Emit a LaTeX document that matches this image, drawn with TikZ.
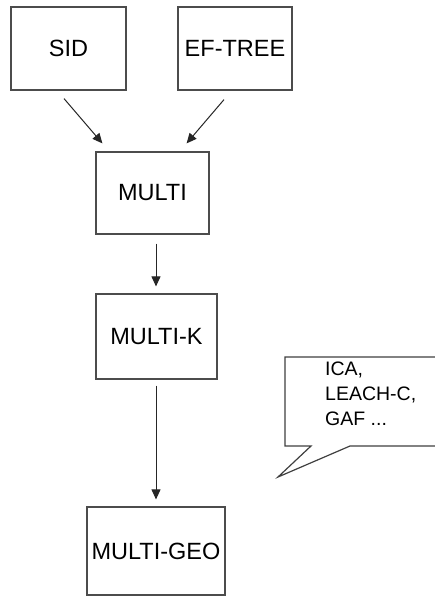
\documentclass[tikz,border=0pt]{standalone}
\usepackage{fontspec}
\setmainfont{Liberation Sans}
\usetikzlibrary{arrows.meta,calc}

\tikzset{
  stage/.style={draw=black!70, line width=1.2pt, fill=white, inner sep=0pt,
    font=\fontsize{23.5}{28}\selectfont},
  flow/.style={draw=black!85, line width=1pt,
    -{Triangle[length=10pt,width=9pt]}},
  bubble/.style={draw=black!75, line width=1.2pt, fill=white, line join=miter},
  bubbletext/.style={align=left, inner sep=0pt,
    font=\fontsize{19.5}{25}\selectfont}
}

\begin{document}
\begin{tikzpicture}[x=1pt,y=-1pt]
  \useasboundingbox[fill=white] (0,0) rectangle (435,597);

  % processing stages
  \node[stage, minimum width=115pt, minimum height=83pt] (sid)    at (68.5,48.5) {SID};
  \node[stage, minimum width=114pt, minimum height=83pt] (eftree) at (235,48.5)  {EF-TREE};
  \node[stage, minimum width=113pt, minimum height=82pt] (multi)  at (152.5,193) {MULTI};
  \node[stage, minimum width=121pt, minimum height=85pt] (multik) at (156.5,336.5) {MULTI-K};
  \node[stage, minimum width=138pt, minimum height=88pt] (multigeo) at (156,551) {MULTI-GEO};

  % connectors (they stop short of the boxes)
  \draw[flow] ($(sid.south)+(-4.5,8)$) -- ($(multi.north west)+(7,-8)$);
  \draw[flow] ($(eftree.south)+(-11,9)$) -- ($(multi.north east)+(-23,-8)$);
  \draw[flow] ($(multi.south)+(3.5,9)$) -- ($(multik.north)+(-0.5,-7)$);
  \draw[flow] ($(multik.south)+(-0.5,6)$) -- ($(multigeo.north)+(0,-7)$);

  % speech bubble with related methods
  \coordinate (tip) at (278,477);
  \draw[bubble] (285,357) -- (440,357) -- (440,446) -- (350,446) -- (tip)
    -- (311,446) -- (285,446) -- cycle;
  \node[bubbletext, anchor=north west] (methods) at (325,362)
    {ICA,\\LEACH-C,\\GAF ...};
\end{tikzpicture}
\end{document}
